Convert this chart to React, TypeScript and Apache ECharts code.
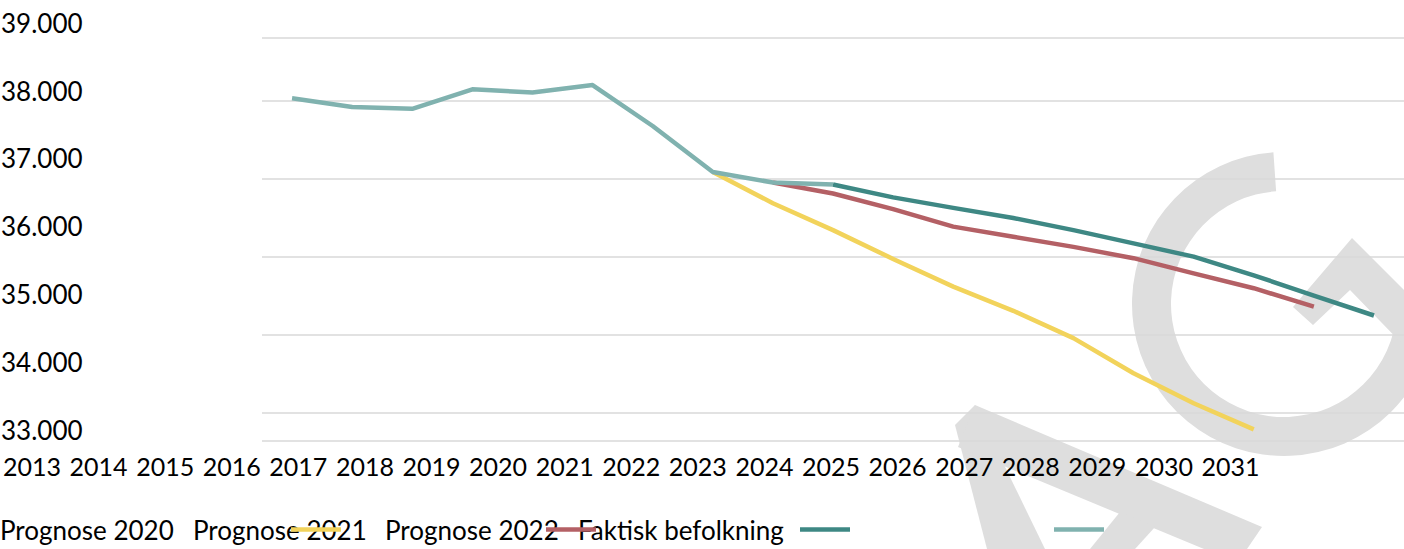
import React, { useEffect, useRef } from "react";
import * as echarts from "echarts";

// ---- data ----
const years = [
  "2013", "2014", "2015", "2016", "2017", "2018", "2019", "2020", "2021", "2022",
  "2023", "2024", "2025", "2026", "2027", "2028", "2029", "2030", "2031",
];
const seriesNames = ["Prognose 2020", "Prognose 2021", "Prognose 2022", "Faktisk befolkning", ""];
const seriesColors = ["#ffffff", "#f2d35b", "#b46065", "#3e8884", "#80b2af"];

const prognose2020: (number | null)[] = [];
const prognose2021: (number | null)[] = [
  null, null, null, null, null, null, null,
  37090, 36690, 36345, 35975, 35620, 35310, 34960, 34510, 34125, 33790,
  null, null,
];
const prognose2022: (number | null)[] = [
  null, null, null, null, null, null, null, null,
  36955, 36815, 36615, 36390, 36260, 36130, 35985, 35790, 35600, 35365,
  null,
];
const faktiskBefolkning: (number | null)[] = [
  null, null, null, null, null, null, null, null, null,
  36930, 36765, 36630, 36500, 36345, 36175, 36005, 35765, 35505, 35250,
];
const unnamedSeries: (number | null)[] = [
  38035, 37925, 37900, 38150, 38110, 38205, 37680, 37090, 36955, 36930,
  null, null, null, null, null, null, null, null, null,
];
const seriesData = [prognose2020, prognose2021, prognose2022, faktiskBefolkning, unnamedSeries];

const yLabelMin = 33000;
const yLabelMax = 39000;
const yLabelStep = 1000;

const FONT = "Lato";

function fmt(v: number) {
  return String(v).replace(/\B(?=(\d{3})+(?!\d))/g, ".");
}

export default function App() {
  const ref = useRef<HTMLDivElement>(null);

  useEffect(() => {
    if (!ref.current) return;
    const chart = echarts.init(ref.current, undefined, { renderer: "svg" });

    const legendTextX = [0, 193, 385, 578];
    const legendMarkX = [36, 291, 546, 800, 1054];

    const graphics: any[] = [];
    // watermark
    const wm = "#dedede";
    graphics.push({
      type: "sector",
      z: -10,
      silent: true,
      shape: { cx: 1284, cy: 304, r0: 113, r: 152, startAngle: (14 * Math.PI) / 180, endAngle: (266 * Math.PI) / 180, clockwise: true },
      style: { fill: wm },
    });
    graphics.push({
      type: "polygon",
      z: -10,
      silent: true,
      shape: { points: [[1293, 307], [1352, 238], [1440, 326], [1412, 354], [1350, 290], [1313, 325]] },
      style: { fill: wm },
    });
    graphics.push({
      type: "polygon",
      z: -10,
      silent: true,
      shape: { points: [[955, 425], [975, 405], [1045, 549], [987, 549]] },
      style: { fill: wm },
    });
    graphics.push({
      type: "polygon",
      z: -10,
      silent: true,
      shape: { points: [[975, 405], [1262, 527], [1247, 549], [1204, 549], [958, 447]] },
      style: { fill: wm },
    });
    graphics.push({
      type: "polygon",
      z: -10,
      silent: true,
      shape: { points: [[1090, 549], [1120, 512], [1155, 527], [1135, 549]] },
      style: { fill: wm },
    });

    // legend texts
    seriesNames.forEach((name, i) => {
      if (!name) return;
      graphics.push({
        type: "text",
        z: 5,
        x: legendTextX[i],
        y: 530,
        style: { text: name, fill: "#000", fontFamily: FONT, fontSize: 26, verticalAlign: "middle", align: "left" },
      });
    });
    // legend markers
    seriesNames.forEach((_, i) => {
      if (seriesColors[i] === "#ffffff") return;
      graphics.push({
        type: "line",
        z: 6,
        shape: { x1: legendMarkX[i], y1: 529.5, x2: legendMarkX[i] + 50, y2: 529.5 },
        style: { stroke: seriesColors[i], lineWidth: 4.5 },
      });
    });

    const option: any = {
      animation: false,
      backgroundColor: "#fff",
      grid: [
        { left: 262, right: -2, top: 37.5, bottom: 549 - 440.5 },
        { left: 10, width: 1, top: 22.7, bottom: 549 - 430 },
        { left: 29.9, right: 1404 - 1230.5, top: 440, height: 1 },
      ],
      xAxis: [
        {
          gridIndex: 0,
          type: "category",
          data: years,
          boundaryGap: true,
          axisLine: { show: false },
          axisTick: { show: false },
          axisLabel: { show: false },
          splitLine: { show: false },
        },
        { gridIndex: 1, type: "value", show: false },
        {
          gridIndex: 2,
          type: "category",
          data: years,
          boundaryGap: false,
          position: "bottom",
          axisLine: { show: false },
          axisTick: { show: false },
          splitLine: { show: false },
          axisLabel: { interval: 0, color: "#000", fontFamily: FONT, fontSize: 25, margin: 12 },
        },
      ],
      yAxis: [
        {
          gridIndex: 0,
          type: "value",
          min: 33647,
          max: 38815,
          minInterval: 1000,
          maxInterval: 1000,
          axisLabel: { show: false },
          axisLine: { show: false },
          axisTick: { show: false },
          splitLine: { show: true, lineStyle: { color: "#d9d9d9", width: 1.5 } },
        },
        {
          gridIndex: 1,
          type: "value",
          min: yLabelMin,
          max: yLabelMax,
          interval: yLabelStep,
          axisLine: { show: false },
          axisTick: { show: false },
          splitLine: { show: false },
          axisLabel: {
            align: "left",
            margin: 10,
            color: "#000",
            fontFamily: FONT,
            fontSize: 26,
            showMinLabel: true,
            showMaxLabel: true,
            formatter: (v: number) => fmt(v),
          },
        },
        { gridIndex: 2, type: "value", show: false },
      ],
      series: seriesNames.map((name, i) => ({
        name,
        type: "line",
        xAxisIndex: 0,
        yAxisIndex: 0,
        data: seriesData[i],
        showSymbol: false,
        symbol: "none",
        connectNulls: false,
        lineStyle: { color: seriesColors[i], width: 4.5, cap: "butt", join: "round" },
        itemStyle: { color: seriesColors[i] },
        z: 2 + i,
      })),
      graphic: graphics,
    };

    chart.setOption(option);
    return () => chart.dispose();
  }, []);

  return (
    <div
      ref={ref}
      style={{ position: "absolute", left: 0, top: 0, width: 1404, height: 549, background: "#fff" }}
    />
  );
}
